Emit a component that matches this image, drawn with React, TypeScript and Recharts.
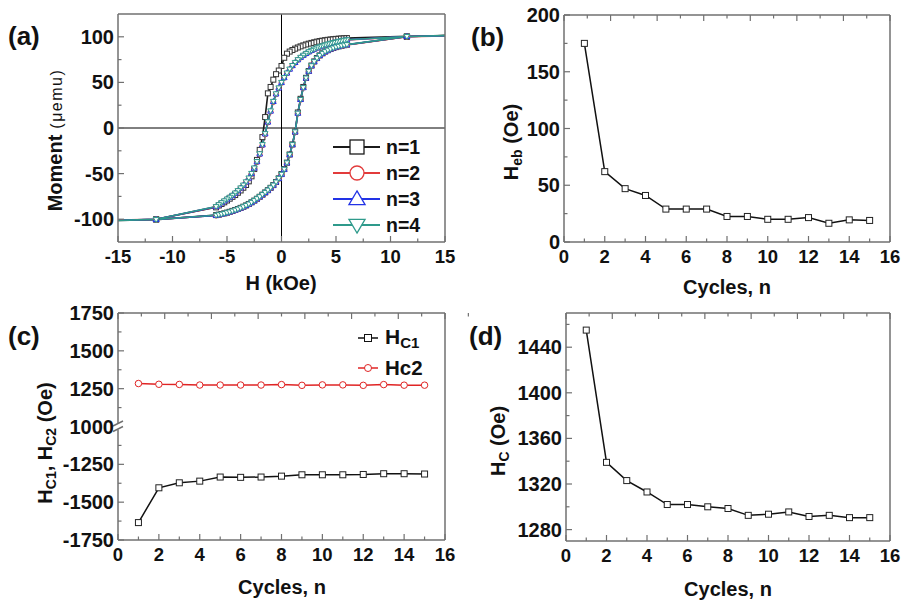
import React from "react";
import { LineChart, Line, XAxis, YAxis, ReferenceLine } from "recharts";

const FONT = "'Liberation Sans', Arial, Helvetica, sans-serif";
const FRAME = "#707070";
const INK = "#111111";

// ---------- (a) M-H loops ----------
const fieldDown = [15, 11.5, 6, 5.75, 5.5, 5.25, 5, 4.75, 4.5, 4.25, 4, 3.75, 3.5, 3.25, 3, 2.75, 2.5, 2.25, 2, 1.75, 1.5, 1.25, 1, 0.75, 0.5, 0.25, 0, -0.25, -0.5, -0.75, -1, -1.25, -1.5, -1.75, -2, -2.25, -2.5, -2.75, -3, -3.25, -3.5, -3.75, -4, -4.25, -4.5, -4.75, -5, -5.25, -5.5, -5.75, -6, -11.5, -15];
const fieldUp = [-15, -11.5, -6, -5.75, -5.5, -5.25, -5, -4.75, -4.5, -4.25, -4, -3.75, -3.5, -3.25, -3, -2.75, -2.5, -2.25, -2, -1.75, -1.5, -1.25, -1, -0.75, -0.5, -0.25, 0, 0.25, 0.5, 0.75, 1, 1.25, 1.5, 1.75, 2, 2.25, 2.5, 2.75, 3, 3.25, 3.5, 3.75, 4, 4.25, 4.5, 4.75, 5, 5.25, 5.5, 5.75, 6, 11.5, 15];

const downN1 = [101.5, 100.5, 98.6, 98.4, 98.2, 98.0, 97.7, 97.4, 97.1, 96.7, 96.3, 95.8, 95.3, 94.7, 94.0, 93.3, 92.5, 91.6, 90.6, 89.5, 88.3, 87.0, 85.5, 83.8, 81.5, 77.0, 68.0, 63.0, 59.0, 53.0, 45.0, 38.0, 12.0, -10.0, -24.0, -35.0, -45.0, -53.0, -58.5, -62.5, -65.5, -68.5, -71.0, -73.5, -75.5, -77.5, -79.5, -81.5, -83.3, -85.0, -87.0, -100.0, -101.5];
const upN1 = [-101.5, -100.5, -95.5, -95.0, -94.3, -93.6, -92.8, -91.9, -90.9, -89.9, -88.8, -87.6, -86.3, -84.9, -83.3, -81.5, -79.6, -77.6, -75.4, -73.1, -70.7, -68.2, -65.6, -62.6, -59.2, -55.2, -50.5, -45.0, -38.0, -29.0, -18.0, -4.0, 17.0, 32.0, 45.0, 55.0, 62.5, 68.5, 73.0, 76.7, 79.6, 81.9, 83.8, 85.3, 86.6, 87.7, 88.7, 89.5, 90.2, 90.8, 91.3, 100.0, 101.5];
const downN2 = [101.0, 100.2, 96.5, 96.0, 95.4, 94.8, 94.1, 93.4, 92.6, 91.8, 90.9, 89.9, 88.8, 87.6, 86.3, 84.9, 83.3, 81.5, 79.5, 77.2, 74.6, 71.6, 68.2, 64.3, 60.0, 55.0, 49.5, 43.5, 37.0, 28.5, 18.0, 6.0, -7.0, -19.0, -29.0, -37.5, -44.5, -50.5, -55.5, -59.5, -63.0, -66.0, -69.0, -71.5, -74.0, -76.0, -78.0, -80.0, -82.0, -84.5, -86.5, -100.0, -101.0];
const upN2 = [-101.0, -100.2, -96.0, -95.4, -94.7, -94.0, -93.2, -92.3, -91.3, -90.3, -89.2, -88.0, -86.7, -85.2, -83.6, -81.8, -79.9, -77.8, -75.6, -73.3, -70.9, -68.4, -65.8, -62.9, -59.5, -55.5, -51.0, -45.5, -38.5, -29.5, -18.5, -4.5, 16.0, 31.0, 44.0, 54.5, 62.0, 68.0, 72.5, 76.2, 79.2, 81.6, 83.5, 85.1, 86.4, 87.5, 88.5, 89.3, 90.0, 90.6, 91.1, 100.2, 101.0];
const downN3 = [101.2, 100.3, 96.7, 96.2, 95.6, 95.0, 94.3, 93.6, 92.8, 92.0, 91.1, 90.1, 89.0, 87.8, 86.5, 85.1, 83.5, 81.7, 79.7, 77.4, 74.8, 71.8, 68.4, 64.5, 60.2, 55.2, 49.8, 43.8, 37.3, 29.0, 18.5, 6.5, -6.5, -18.5, -28.5, -37.0, -44.0, -50.0, -55.0, -59.2, -62.8, -65.8, -68.8, -71.4, -73.9, -76.0, -78.0, -80.0, -82.0, -84.2, -86.3, -100.1, -101.2];
const upN3 = [-101.2, -100.3, -95.8, -95.2, -94.5, -93.8, -93.0, -92.1, -91.1, -90.1, -89.0, -87.8, -86.5, -85.0, -83.4, -81.6, -79.7, -77.6, -75.4, -73.1, -70.7, -68.2, -65.6, -62.7, -59.3, -55.3, -50.8, -45.3, -38.3, -29.3, -18.3, -4.3, 16.2, 31.2, 44.2, 54.7, 62.2, 68.2, 72.7, 76.4, 79.4, 81.8, 83.7, 85.3, 86.6, 87.7, 88.7, 89.5, 90.2, 90.8, 91.3, 100.3, 101.2];
const downN4 = [101.3, 100.4, 96.8, 96.3, 95.7, 95.1, 94.4, 93.7, 92.9, 92.1, 91.2, 90.2, 89.1, 87.9, 86.6, 85.2, 83.6, 81.8, 79.8, 77.5, 74.9, 71.9, 68.5, 64.6, 60.3, 55.3, 50.0, 44.0, 37.5, 29.2, 18.8, 6.8, -6.2, -18.2, -28.2, -36.8, -43.8, -49.8, -54.8, -59.0, -62.6, -65.7, -68.7, -71.3, -73.8, -75.9, -77.9, -79.9, -81.9, -84.1, -86.2, -100.0, -101.3];
const upN4 = [-101.3, -100.4, -95.7, -95.1, -94.4, -93.7, -92.9, -92.0, -91.0, -90.0, -88.9, -87.7, -86.4, -84.9, -83.3, -81.5, -79.6, -77.5, -75.3, -73.0, -70.6, -68.1, -65.5, -62.6, -59.2, -55.2, -50.7, -45.2, -38.2, -29.2, -18.2, -4.2, 16.3, 31.3, 44.3, 54.8, 62.3, 68.3, 72.8, 76.5, 79.5, 81.9, 83.8, 85.4, 86.7, 87.8, 88.8, 89.6, 90.3, 90.9, 91.4, 100.4, 101.3];

const loopNames = ["n=1", "n=2", "n=3", "n=4"];
const loopColors = ["#1b1b1b", "#e23b3b", "#2233e6", "#2e9a8b"];
const loopShapes = ["square", "circle", "up", "down"];
const loopsDown = [downN1, downN2, downN3, downN4];
const loopsUp = [upN1, upN2, upN3, upN4];

const hTicks = [-15, -12.5, -10, -7.5, -5, -2.5, 0, 2.5, 5, 7.5, 10, 12.5, 15];
const hMajor = [-15, -10, -5, 0, 5, 10, 15];
const mTicks = [-100, -75, -50, -25, 0, 25, 50, 75, 100];
const mMajor = [-100, -50, 0, 50, 100];

// ---------- (b)-(d) training effect ----------
const cycles = [1, 2, 3, 4, 5, 6, 7, 8, 9, 10, 11, 12, 13, 14, 15];
const heb = [175, 62, 47, 41, 29, 29, 29, 22.5, 22.5, 20, 20, 21.5, 16.5, 19.5, 19];
const hc1 = [-1635, -1405, -1372, -1361, -1334, -1336, -1334, -1328, -1319, -1319, -1319, -1317, -1312, -1312, -1314];
const hc2 = [1284, 1279, 1278, 1274, 1274, 1274, 1274, 1277, 1272, 1275, 1275, 1272, 1277, 1273, 1273];
const hc = [1455, 1339, 1323, 1313, 1302, 1302, 1300, 1298.5, 1292.5, 1293.5, 1295.5, 1291.5, 1292.5, 1290.5, 1290.5];

const nTicks = [0, 1, 2, 3, 4, 5, 6, 7, 8, 9, 10, 11, 12, 13, 14, 15, 16];
const nMajor = [0, 2, 4, 6, 8, 10, 12, 14, 16];
const hebTicks = [0, 25, 50, 75, 100, 125, 150, 175, 200];
const hebMajor = [0, 50, 100, 150, 200];
// (c) uses a broken axis: 1000..1750 above the break, -1000..-1750 below it
const breakShift = 1000;
const hc12Ticks = [-750, -625, -500, -375, -250, -125, 0, 125, 250, 375, 500, 625, 750];
const hc12Major = [-750, -500, -250, 0, 250, 500, 750];
const hcTicks = [1280, 1300, 1320, 1340, 1360, 1380, 1400, 1420, 1440, 1460];
const hcMajor = [1280, 1320, 1360, 1400, 1440];

const loopData = loopsDown.map((down, k) => [
  ...fieldDown.map((h, i) => ({ h, m: down[i] })),
  ...fieldUp.map((h, i) => ({ h, m: loopsUp[k][i] })),
]);
const toBroken = (v: number) => (v > 0 ? v - breakShift : v + breakShift);
const cycleData = cycles.map((n, i) => ({ n, heb: heb[i], hc1: toBroken(hc1[i]), hc2: toBroken(hc2[i]), hc: hc[i] }));

type Side = "bottom" | "top" | "left" | "right";

const Marker = ({ shape, cx, cy, size, stroke, fill, sw = 1 }: any) => {
  const r = size / 2;
  if (shape === "square")
    return <rect x={cx - r} y={cy - r} width={size} height={size} fill={fill} stroke={stroke} strokeWidth={sw} />;
  if (shape === "circle") return <circle cx={cx} cy={cy} r={r} fill={fill} stroke={stroke} strokeWidth={sw} />;
  const s = shape === "up" ? 1 : -1;
  const pts = `${cx},${cy - s * r * 1.15} ${cx + r * 1.15},${cy + s * r * 0.8} ${cx - r * 1.15},${cy + s * r * 0.8}`;
  return <polygon points={pts} fill={fill} stroke={stroke} strokeWidth={sw} />;
};

const dotRenderer = (shape: string, stroke: string, size: number) => (p: any) => {
  if (p.cx == null || p.cy == null || (p.payload && Math.abs(p.payload.h) >= 15))
    return <g key={`e-${p.index}`} />;
  return <Marker key={`m-${p.index}`} shape={shape} cx={p.cx} cy={p.cy} size={size} stroke={stroke} fill="#fff" />;
};

const makeTick = (side: Side, majors: number[], labels: boolean, fmt?: (v: number) => string, breakAt?: number) => (props: any) => {
  const { x, y, payload, index } = props;
  const v = payload.value as number;
  const major = majors.includes(v);
  const len = major ? 6 : 3.5;
  const txt = labels && major ? (fmt ? fmt(v) : String(v)) : "";
  let x2 = x, y2 = y, tx = x, ty = y;
  let anchor: "middle" | "end" = "middle";
  let fs = 18.5;
  if (side === "bottom") { y2 = y - len; ty = y + 21; }
  if (side === "top") { y2 = y + len; }
  if (side === "left") { x2 = x + len; tx = x - 4; ty = y + 7; anchor = "end"; fs = 20; }
  if (side === "right") { x2 = x - len; }
  const brk = breakAt !== undefined && v === breakAt && (side === "left" || side === "right");
  return (
    <g key={`t-${side}-${index}`}>
      {brk ? (
        <g>
          <rect x={x - 5} y={y - 3} width={10} height={6} fill="#fff" />
          <line x1={x - 5} y1={y - 0.5} x2={x + 5} y2={y - 5.5} stroke={FRAME} strokeWidth={1.4} />
          <line x1={x - 5} y1={y + 5} x2={x + 5} y2={y} stroke={FRAME} strokeWidth={1.4} />
        </g>
      ) : (
        <line x1={x} y1={y} x2={x2} y2={y2} stroke={FRAME} strokeWidth={1.2} />
      )}
      {txt && (
        <text x={tx} y={ty} textAnchor={anchor} fontFamily={FONT} fontWeight="bold" fontSize={fs} fill={INK}>
          {txt}
        </text>
      )}
    </g>
  );
};

// axes need a non-zero size to be drawn, so each one is 1px thick (margins are 1px less)
const frameAxes = (
  xKey: string,
  xDomain: number[],
  xTicks: number[],
  xMajor: number[],
  yDomain: number[],
  yTicks: number[],
  yMajor: number[],
  yFmt?: (v: number) => string,
  breakAt?: number
) => {
  const line = { stroke: FRAME, strokeWidth: 1.5 };
  const common = { type: "number" as const, interval: 0 as const, tickSize: 0, tickMargin: 0, tickLine: false, axisLine: line };
  return [
    <XAxis key="xb" dataKey={xKey} domain={xDomain} ticks={xTicks} height={1} tick={makeTick("bottom", xMajor, true)} {...common} />,
    <XAxis key="xt" xAxisId="top" orientation="top" domain={xDomain} ticks={xTicks} height={1} tick={makeTick("top", xMajor, false)} {...common} />,
    <YAxis key="yl" domain={yDomain} ticks={yTicks} width={1} tick={makeTick("left", yMajor, true, yFmt, breakAt)} {...common} />,
    <YAxis key="yr" yAxisId="right" orientation="right" domain={yDomain} ticks={yTicks} width={1} tick={makeTick("right", yMajor, false, undefined, breakAt)} {...common} />,
  ];
};

const txt = { fontFamily: FONT, fontWeight: "bold" as const, fill: INK };

const Overlay = () => (
  <svg width={901} height={600} style={{ position: "absolute", left: 0, top: 0, pointerEvents: "none" }}>
    {/* panel letters */}
    <text x={8} y={45} fontSize={26} {...txt}>(a)</text>
    <text x={471} y={46} fontSize={26} {...txt}>(b)</text>
    <text x={8} y={345} fontSize={26} {...txt}>(c)</text>
    <text x={469} y={345} fontSize={26} {...txt}>(d)</text>

    {/* axis titles */}
    <text x={281} y={290} fontSize={20} textAnchor="middle" {...txt}>H (kOe)</text>
    <text x={727} y={294} fontSize={20} textAnchor="middle" {...txt}>Cycles, n</text>
    <text x={282} y={594} fontSize={20} textAnchor="middle" {...txt}>Cycles, n</text>
    <text x={728} y={596} fontSize={20} textAnchor="middle" {...txt}>Cycles, n</text>

    <text transform="translate(62,140) rotate(-90)" textAnchor="middle" fontSize={20} {...txt}>
      Moment
      <tspan fontSize={16} fontWeight="normal" letterSpacing={1.5}> (μemu)</tspan>
    </text>
    <text transform="translate(518,142) rotate(-90)" textAnchor="middle" fontSize={20} {...txt}>
      H<tspan fontSize={14} dy={4}>eb</tspan>
      <tspan dy={-4}> (Oe)</tspan>
    </text>
    <text transform="translate(52,443) rotate(-90)" textAnchor="middle" fontSize={20} {...txt}>
      H<tspan fontSize={14} dy={4}>C1</tspan>
      <tspan dy={-4}>, H</tspan>
      <tspan fontSize={14} dy={4}>C2</tspan>
      <tspan dy={-4}> (Oe)</tspan>
    </text>
    <text transform="translate(505,441) rotate(-90)" textAnchor="middle" fontSize={20} {...txt}>
      H<tspan fontSize={14} dy={4}>C</tspan>
      <tspan dy={-4}> (Oe)</tspan>
    </text>

    {/* legend (a) */}
    {loopNames.map((name, k) => {
      const y = 147 + k * 26;
      return (
        <g key={name}>
          <line x1={333} y1={y} x2={380} y2={y} stroke={loopColors[k]} strokeWidth={2} />
          <Marker shape={loopShapes[k]} cx={357} cy={y} size={14} stroke={loopColors[k]} fill="#fff" sw={1.3} />
          <text x={386} y={y + 7} fontSize={19.5} {...txt}>{name}</text>
        </g>
      );
    })}

    {/* legend (c) */}
    <line x1={358} y1={338} x2={378} y2={338} stroke={INK} strokeWidth={1.5} />
    <Marker shape="square" cx={368} cy={338} size={7} stroke={INK} fill="#fff" />
    <text x={385} y={344} fontSize={21} {...txt}>
      H<tspan fontSize={15} dy={4}>C1</tspan>
    </text>
    <line x1={358} y1={368} x2={378} y2={368} stroke="#e02424" strokeWidth={1.5} />
    <Marker shape="circle" cx={368} cy={368} size={7} stroke="#e02424" fill="#fff" />
    <text x={385} y={375} fontSize={20.5} {...txt}>Hc2</text>
  </svg>
);

export default function App() {
  return (
    <div style={{ position: "absolute", left: 0, top: 0, width: 901, height: 600, background: "#fff", overflow: "hidden" }}>
      <div style={{ position: "absolute", left: 0, top: 0 }}>
        <LineChart width={470} height={295} margin={{ top: 13, right: 24, bottom: 52, left: 117 }}>
          {frameAxes("h", [-15, 15], hTicks, hMajor, [-125, 125], mTicks, mMajor)}
          <ReferenceLine x={0} stroke="#000" strokeWidth={1} />
          <ReferenceLine y={0} stroke="#000" strokeWidth={1} />
          {loopData.map((d, k) => (
            <Line
              key={loopNames[k]}
              data={d}
              dataKey="m"
              name={loopNames[k]}
              stroke={loopColors[k]}
              strokeWidth={1.6}
              dot={dotRenderer(loopShapes[k], k === 0 ? "#333" : loopColors[k], 5)}
              activeDot={false}
              isAnimationActive={false}
            />
          ))}
        </LineChart>
      </div>

      <div style={{ position: "absolute", left: 450, top: 0 }}>
        <LineChart width={470} height={295} data={cycleData} margin={{ top: 14, right: 29, bottom: 52, left: 113 }}>
          {frameAxes("n", [0, 16], nTicks, nMajor, [0, 200], hebTicks, hebMajor)}
          <Line dataKey="heb" stroke={INK} strokeWidth={1.5} dot={dotRenderer("square", "#222", 6)} activeDot={false} isAnimationActive={false} />
        </LineChart>
      </div>

      <div style={{ position: "absolute", left: 0, top: 295 }}>
        <LineChart width={470} height={305} data={cycleData} margin={{ top: 17, right: 24, bottom: 59, left: 117 }}>
          {frameAxes("n", [0, 16], nTicks, nMajor, [-750, 750], hc12Ticks, hc12Major, (v) => String(v >= 0 ? v + breakShift : v - breakShift), 0)}
          <Line dataKey="hc1" stroke={INK} strokeWidth={1.5} dot={dotRenderer("square", "#222", 6)} activeDot={false} isAnimationActive={false} />
          <Line dataKey="hc2" stroke="#e02424" strokeWidth={1.5} dot={dotRenderer("circle", "#e02424", 6.5)} activeDot={false} isAnimationActive={false} />
        </LineChart>
      </div>

      <div style={{ position: "absolute", left: 450, top: 295 }}>
        <LineChart width={470} height={305} data={cycleData} margin={{ top: 17, right: 29, bottom: 58, left: 115 }}>
          {frameAxes("n", [0, 16], nTicks, nMajor, [1270, 1470], hcTicks, hcMajor)}
          <Line dataKey="hc" stroke={INK} strokeWidth={1.5} dot={dotRenderer("square", "#222", 6)} activeDot={false} isAnimationActive={false} />
        </LineChart>
      </div>

      <Overlay />
    </div>
  );
}
